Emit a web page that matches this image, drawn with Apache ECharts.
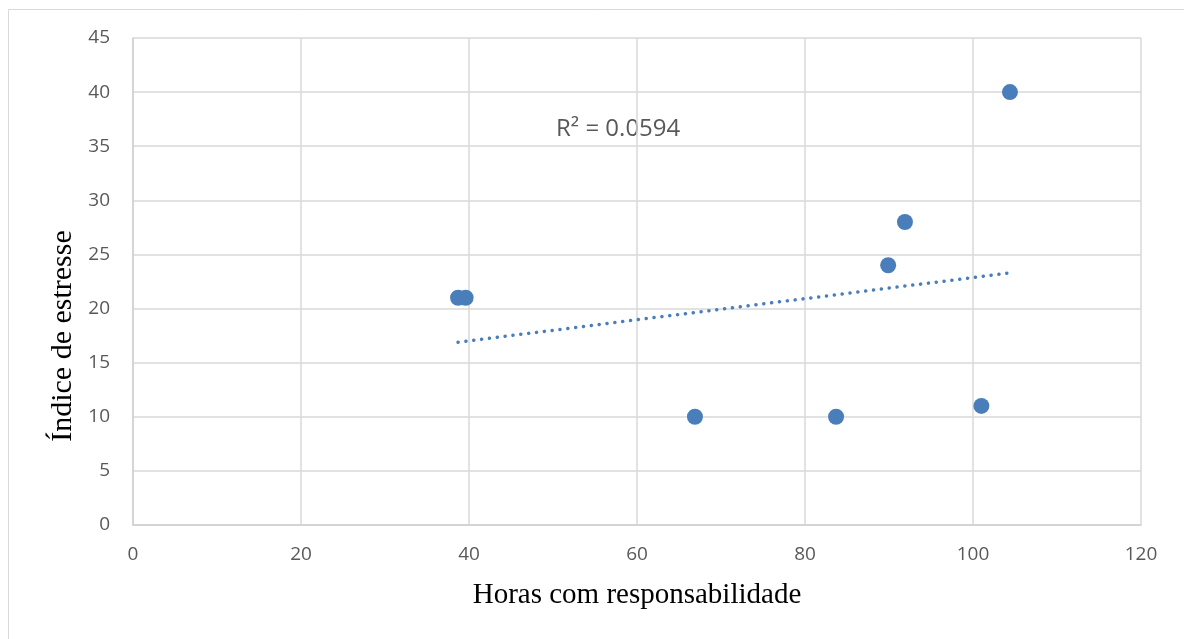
<!DOCTYPE html>
<html>
<head>
<meta charset="utf-8">
<script src="https://cdn.jsdelivr.net/npm/echarts@6/dist/echarts.min.js"></script>
<style>
  html, body { margin: 0; padding: 0; background: #fff; }
  #chart { width: 1184px; height: 639px; }
</style>
</head>
<body>
<div id="chart"></div>
<script>
    // horas com responsabilidade x indice de estresse
    const horas = [38.7, 39.6, 66.9, 83.7, 89.9, 91.9, 104.4, 101.0];
    const estresse = [21, 21, 10, 10, 24, 28, 40, 11];
    const r2Label = 'R² = 0.0594';
    const yTitle = 'Índice de estresse';
    const xTitle = 'Horas com responsabilidade';

    function fnLinearFit(xs, ys) {
        let n = xs.length, sx = 0, sy = 0, sxx = 0, sxy = 0;
        for (let i = 0; i < n; i++) {
            sx += xs[i]; sy += ys[i];
            sxx += xs[i] * xs[i]; sxy += xs[i] * ys[i];
        }
        let slope = (n * sxy - sx * sy) / (n * sxx - sx * sx);
        let intercept = (sy - slope * sx) / n;
        return { slope: slope, intercept: intercept };
    }

    let points = horas.map(function (h, i) { return [h, estresse[i]]; });
    let fit = fnLinearFit(horas, estresse);
    let xMin = Math.min.apply(null, horas);
    let xMax = Math.max.apply(null, horas);
    let trend = [
        [xMin, fit.intercept + fit.slope * xMin],
        [xMax, fit.intercept + fit.slope * xMax]
    ];

    let chartDom = document.getElementById('chart');
    let myChart = echarts.init(chartDom);

    let labelFont = { color: '#595959', fontSize: 19, fontFamily: 'Open Sans' };

    let option = {
        animation: false,
        grid: { left: 133, right: 43, top: 38, bottom: 114 },
        graphic: [
            {
                type: 'rect',
                shape: { x: 8.5, y: 9.5, width: 1200, height: 700 },
                style: { fill: 'none', stroke: '#d9d9d9', lineWidth: 1 },
                silent: true
            },
            {
                type: 'text',
                x: 556, y: 129,
                style: {
                    text: r2Label, fill: '#595959', fontSize: 24, fontFamily: 'Open Sans',
                    verticalAlign: 'middle'
                }
            },
            {
                type: 'text',
                x: 63, y: 336,
                rotation: Math.PI / 2,
                style: {
                    text: yTitle, fill: '#000', fontSize: 30, fontFamily: 'Liberation Serif',
                    align: 'center', verticalAlign: 'middle'
                }
            }
        ],
        xAxis: {
            type: 'value',
            min: 0, max: 120, interval: 20,
            name: xTitle,
            nameLocation: 'middle',
            nameGap: 56,
            nameTextStyle: { color: '#000', fontSize: 29, fontFamily: 'Liberation Serif' },
            axisLine: { show: true, lineStyle: { color: '#d0d0d0', width: 1.5 } },
            axisTick: { show: false },
            axisLabel: Object.assign({ margin: 20 }, labelFont),
            splitLine: { show: true, lineStyle: { color: '#d9d9d9', width: 1.5 } }
        },
        yAxis: {
            type: 'value',
            min: 0, max: 45, interval: 5,
            axisLine: { show: true, lineStyle: { color: '#d0d0d0', width: 1.5 } },
            axisTick: { show: false },
            axisLabel: Object.assign({ margin: 23 }, labelFont),
            splitLine: { show: true, lineStyle: { color: '#d9d9d9', width: 1.5 } }
        },
        series: [
            {
                type: 'line',
                data: trend,
                symbol: 'none',
                lineStyle: { color: '#4a7ebb', width: 3.5, type: [0.1, 7.8], cap: 'round' },
                z: 2
            },
            {
                type: 'scatter',
                data: points,
                symbolSize: 16,
                itemStyle: { color: '#4a7ebb', opacity: 1 },
                z: 3
            }
        ]
    };

    myChart.setOption(option);
</script>
</body>
</html>
